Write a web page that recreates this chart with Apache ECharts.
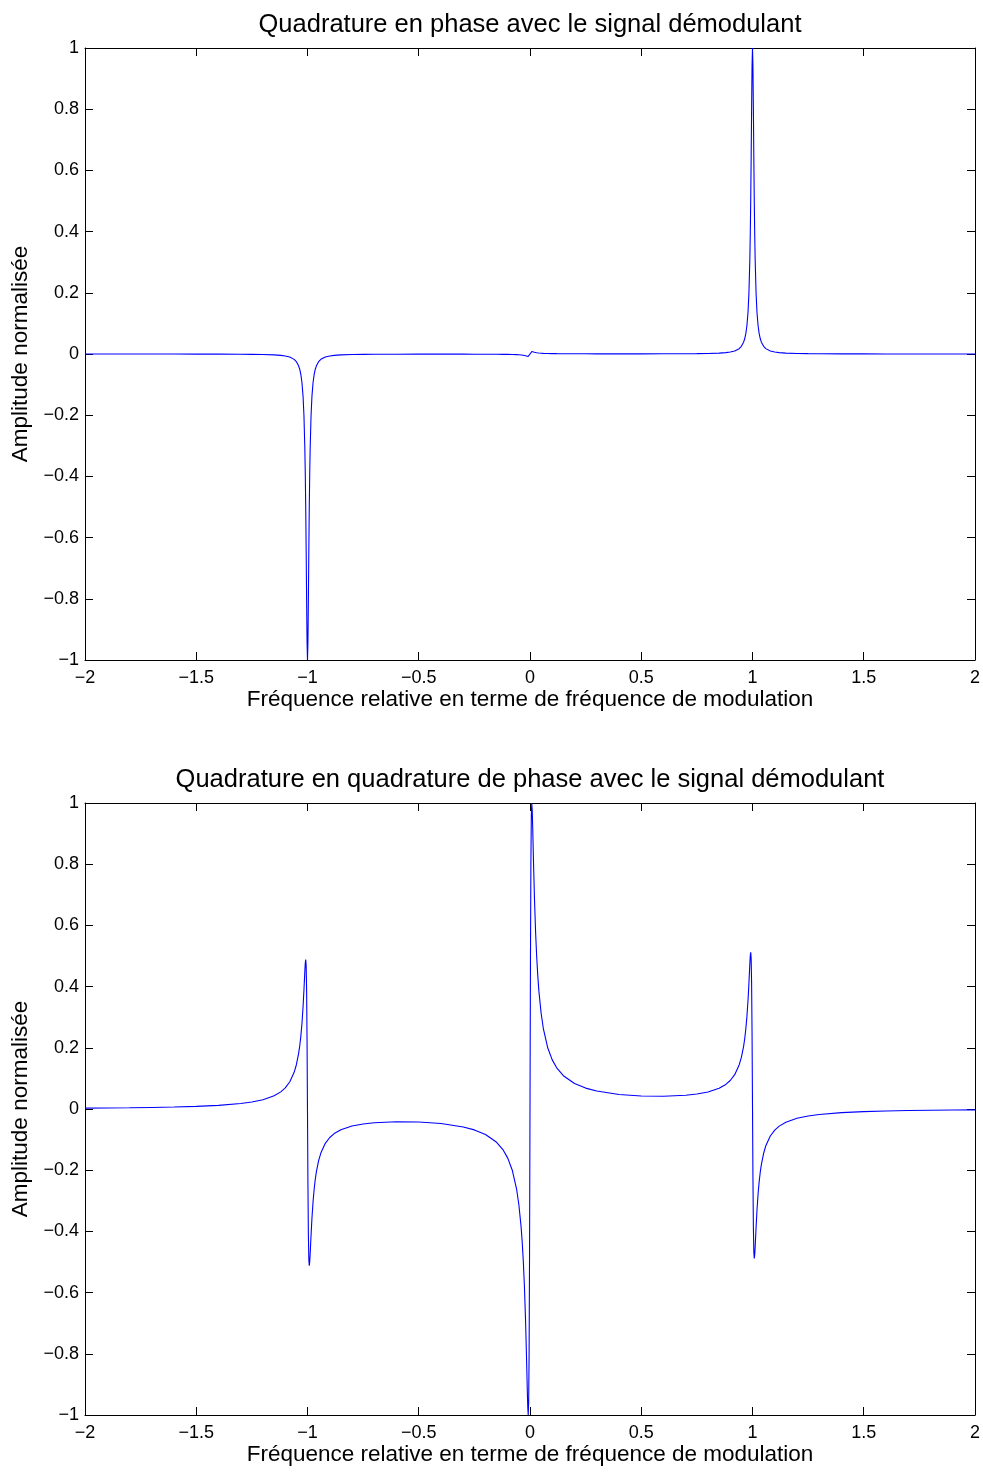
<!DOCTYPE html>
<html>
<head>
<meta charset="utf-8">
<script src="https://cdn.jsdelivr.net/npm/echarts@6/dist/echarts.min.js"></script>
<style>
html,body{margin:0;padding:0;background:#fff;}
#chart{width:983px;height:1472px;}
</style>
</head>
<body>
<div id="chart"></div>
<script>
const titleTop = 'Quadrature en phase avec le signal démodulant';
const titleBottom = 'Quadrature en quadrature de phase avec le signal démodulant';
const xAxisName = 'Fréquence relative en terme de fréquence de modulation';
const yAxisName = 'Amplitude normalisée';

const xValues = [
  -2.0, -1.9, -1.8, -1.7, -1.6, -1.5, -1.4, -1.3, -1.25, -1.2, -1.15, -1.12, -1.1, -1.08, -1.06, -1.05, -1.04, -1.035, -1.03, -1.025,
  -1.02, -1.016, -1.012, -1.01, -1.008, -1.006, -1.004, -1.002, -1.0, -0.998, -0.996, -0.994, -0.992, -0.99, -0.988, -0.984, -0.98, -0.975, -0.97, -0.965,
  -0.96, -0.95, -0.94, -0.92, -0.9, -0.88, -0.85, -0.8, -0.75, -0.7, -0.6, -0.5, -0.4, -0.3, -0.25, -0.2, -0.15, -0.12, -0.1, -0.08,
  -0.06, -0.05, -0.04, -0.035, -0.03, -0.025, -0.02, -0.016, -0.012, -0.01, -0.008, -0.006, -0.004, -0.002,
  0, 0.002, 0.004, 0.006, 0.008, 0.01, 0.012, 0.016, 0.02, 0.025, 0.03, 0.035, 0.04, 0.05, 0.06, 0.08, 0.1, 0.12, 0.15, 0.2,
  0.25, 0.3, 0.4, 0.5, 0.6, 0.7, 0.75, 0.8, 0.85, 0.88, 0.9, 0.92, 0.94, 0.95, 0.96, 0.965, 0.97, 0.975, 0.98, 0.984,
  0.988, 0.99, 0.992, 0.994, 0.996, 0.998, 1.0, 1.002, 1.004, 1.006, 1.008, 1.01, 1.012, 1.016, 1.02, 1.025, 1.03, 1.035, 1.04, 1.05,
  1.06, 1.08, 1.1, 1.12, 1.15, 1.2, 1.25, 1.3, 1.4, 1.5, 1.6, 1.7, 1.8, 1.9, 2.0
];

const topValues = [
  -0.0001, -0.0001, -0.0001, -0.0001, -0.0002, -0.0003, -0.0004, -0.0008, -0.0011, -0.0017, -0.0029, -0.0045, -0.0065, -0.0100, -0.0176, -0.0251, -0.0386, -0.0498, -0.0665, -0.0930,
  -0.1380, -0.2001, -0.3078, -0.3903, -0.5001, -0.6401, -0.8001, -0.9413, -1.0, -0.9413, -0.8001, -0.6401, -0.5001, -0.3903, -0.3078, -0.2001, -0.1380, -0.0930, -0.0665, -0.0498,
  -0.0386, -0.0251, -0.0175, -0.0100, -0.0065, -0.0046, -0.0030, -0.0018, -0.0012, -0.0009, -0.0006, -0.0005, -0.0005, -0.0005, -0.0006, -0.0007, -0.0009, -0.0011, -0.0013, -0.0016,
  -0.0021, -0.0025, -0.0031, -0.0035, -0.0040, -0.0046, -0.0055, -0.0064, -0.0074, -0.0078, -0.0080, -0.0077, -0.0064, -0.0038,
  0, 0.0038, 0.0064, 0.0077, 0.0080, 0.0078, 0.0074, 0.0064, 0.0055, 0.0046, 0.0040, 0.0035, 0.0031, 0.0025, 0.0021, 0.0016, 0.0013, 0.0011, 0.0009, 0.0007,
  0.0006, 0.0005, 0.0005, 0.0005, 0.0006, 0.0009, 0.0012, 0.0018, 0.0030, 0.0046, 0.0065, 0.0100, 0.0175, 0.0251, 0.0386, 0.0498, 0.0665, 0.0930, 0.1380, 0.2001,
  0.3078, 0.3903, 0.5001, 0.6401, 0.8001, 0.9413, 1.0, 0.9413, 0.8001, 0.6401, 0.5001, 0.3903, 0.3078, 0.2001, 0.1380, 0.0930, 0.0665, 0.0498, 0.0386, 0.0251,
  0.0176, 0.0100, 0.0065, 0.0045, 0.0029, 0.0017, 0.0011, 0.0008, 0.0004, 0.0003, 0.0002, 0.0001, 0.0001, 0.0001, 0.0001
];

const bottomValues = [
  0.0027, 0.0032, 0.0040, 0.0050, 0.0064, 0.0085, 0.0119, 0.0178, 0.0228, 0.0303, 0.0430, 0.0559, 0.0688, 0.0881, 0.1198, 0.1447, 0.1809, 0.2057, 0.2374, 0.2787,
  0.3331, 0.3882, 0.4498, 0.4760, 0.4881, 0.4681, 0.3881, 0.2233, -0.0120, -0.2473, -0.4121, -0.4921, -0.5121, -0.4999, -0.4738, -0.4122, -0.3571, -0.3027, -0.2614, -0.2297,
  -0.2049, -0.1687, -0.1439, -0.1122, -0.0931, -0.0803, -0.0677, -0.0555, -0.0488, -0.0448, -0.0417, -0.0427, -0.0476, -0.0586, -0.0683, -0.0832, -0.1089, -0.1347, -0.1606, -0.1993,
  -0.2630, -0.3128, -0.3852, -0.4350, -0.4984, -0.5810, -0.6900, -0.8003, -0.9233, -0.9758, -1.0, -0.9600, -0.8000, -0.4706,
  0, 0.4706, 0.8000, 0.9600, 1.0, 0.9758, 0.9233, 0.8003, 0.6900, 0.5810, 0.4984, 0.4350, 0.3852, 0.3128, 0.2630, 0.1993, 0.1606, 0.1347, 0.1089, 0.0832,
  0.0683, 0.0586, 0.0476, 0.0427, 0.0417, 0.0448, 0.0488, 0.0555, 0.0677, 0.0803, 0.0931, 0.1122, 0.1439, 0.1687, 0.2049, 0.2297, 0.2614, 0.3027, 0.3571, 0.4122,
  0.4738, 0.4999, 0.5121, 0.4921, 0.4121, 0.2473, 0.0120, -0.2233, -0.3881, -0.4681, -0.4881, -0.4760, -0.4498, -0.3882, -0.3331, -0.2787, -0.2374, -0.2057, -0.1809, -0.1447,
  -0.1198, -0.0881, -0.0688, -0.0559, -0.0430, -0.0303, -0.0228, -0.0178, -0.0119, -0.0085, -0.0064, -0.0050, -0.0040, -0.0032, -0.0027
];

const FONT = '"Liberation Sans", Arial, Helvetica, sans-serif';
function fmt(v) {
  const a = Math.round(Math.abs(v) * 100) / 100;
  return (v < -1e-9 ? '\u2212' : '') + String(a);
}

const gridTops = [48, 803];
const grids = gridTops.map(t => ({left: 85, top: t, width: 890, height: 612, show: false, containLabel: false}));

const lineBlack = {onZero: false, lineStyle: {color: '#000', width: 1}};
const tickIn = {inside: true, length: 8, lineStyle: {color: '#000', width: 1}};

const xAxes = [], yAxes = [], series = [];
[0, 1].forEach(g => {
  xAxes.push({
    gridIndex: g, type: 'value', min: -2, max: 2, interval: 0.5, position: 'bottom',
    axisLine: lineBlack, axisTick: tickIn, splitLine: {show: false},
    axisLabel: {formatter: fmt, color: '#000', fontSize: 18, fontFamily: FONT, margin: 9},
    name: xAxisName, nameLocation: 'middle', nameGap: 27,
    nameTextStyle: {fontSize: 22.5, color: '#000', fontFamily: FONT, verticalAlign: 'top'}
  });
  xAxes.push({
    gridIndex: g, type: 'value', min: -2, max: 2, interval: 0.5, position: 'top',
    axisLine: lineBlack, axisTick: tickIn, splitLine: {show: false}, axisLabel: {show: false}
  });
  yAxes.push({
    gridIndex: g, type: 'value', min: -1, max: 1, interval: 0.2, position: 'left',
    axisLine: lineBlack, axisTick: tickIn, splitLine: {show: false},
    axisLabel: {formatter: fmt, color: '#000', fontSize: 18, fontFamily: FONT, margin: 6},
    name: yAxisName, nameLocation: 'middle', nameGap: 51,
    nameTextStyle: {fontSize: 22.5, color: '#000', fontFamily: FONT}
  });
  yAxes.push({
    gridIndex: g, type: 'value', min: -1, max: 1, interval: 0.2, position: 'right',
    axisLine: lineBlack, axisTick: tickIn, splitLine: {show: false}, axisLabel: {show: false}
  });
});

const seriesValues = [topValues, bottomValues];
seriesValues.forEach((vals, g) => {
  series.push({
    type: 'line', xAxisIndex: g * 2, yAxisIndex: g * 2,
    data: xValues.map((x, i) => [x, vals[i]]),
    showSymbol: false, symbol: 'none', smooth: false,
    lineStyle: {color: '#0000ff', width: 1.1}, clip: true
  });
});

const chart = echarts.init(document.getElementById('chart'), null, {renderer: 'canvas'});
chart.setOption({
  backgroundColor: '#fff',
  animation: false,
  title: [
    {text: titleTop, left: 525, top: 7, textAlign: 'center',
     textStyle: {fontSize: 25.5, fontWeight: 'normal', color: '#000', fontFamily: FONT}},
    {text: titleBottom, left: 525, top: 762, textAlign: 'center',
     textStyle: {fontSize: 25.5, fontWeight: 'normal', color: '#000', fontFamily: FONT}}
  ],
  grid: grids,
  xAxis: xAxes,
  yAxis: yAxes,
  series: series
});
</script>
</body>
</html>
